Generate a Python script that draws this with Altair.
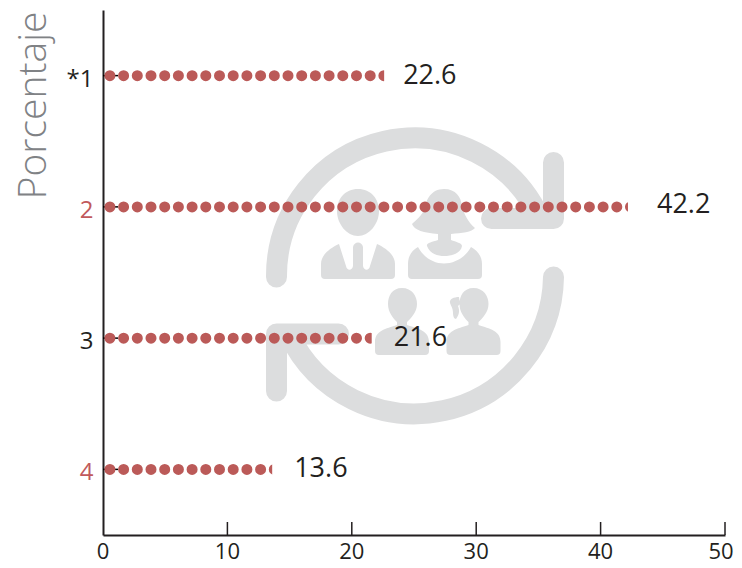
import altair as alt
import pandas as pd

categories = ["*1", "2", "3", "4"]
values = [22.6, 42.2, 21.6, 13.6]
x_ticks = [10, 20, 30, 40, 50]
x_labels = [0, 10, 20, 30, 40]
x_last_label = [50]
label_colors = ["#231f20", "#c1595c", "#231f20", "#c1595c"]
label_shift = [19, 29, 22, 22]
label_rise = [0, -2, 0, 0]

FONT = "Open Sans"
INK = "#231f20"
DOT = "#bb5a58"
GHOST = "#dcddde"
ORDER = categories

df = pd.DataFrame({"cat": categories, "value": values})
df["dot_end"] = df["value"] + 0.44
df["mask_end"] = df["value"] + 0.75
ticks = pd.DataFrame({"t": x_ticks})
tick_text = pd.DataFrame({"t": x_labels})
tick_text_last = pd.DataFrame({"t": x_last_label})
one = pd.DataFrame({"k": [0]})

x_scale = alt.Scale(domain=[0, 50], nice=False)
y_scale = alt.Scale(domain=ORDER)

color_expr = " : ".join(
    f"datum.value == '{c}' ? '{k}'" for c, k in zip(categories, label_colors)
) + " : '#231f20'"

RING = ("M276.5,277 A138,138 0 0 1 540,218.5 "
        "M553.5,162.5 L553.5,218.5 L491.5,218.5 "
        "M553.5,277 A139,139 0 0 1 289,334.5 "
        "M276.5,391 L276.5,334 L338.5,334")

TOP_PEOPLE = (
    "M358,189 C345,189 337,199 337,211 C337,224 347,236 358,236 C369,236 379,224 379,211 C379,199 371,189 358,189 Z "
    "M321,264 C321,255 330,248 339,244 L346,266 C347,271 352,271 353,266 L353,247 C354,241 362,241 363,247 "
    "L363,266 C364,271 369,271 370,266 L377,244 C386,248 395,255 395,264 L395,275 Q395,279 391,279 L325,279 Q321,279 321,275 Z "
    "M444,189 C431,189 426,200 425,208 C422,216 416,220 412,224 C414,230 424,233 438,234 L438,240 "
    "C432,242 426,243 427,246 C430,254 438,256 444,256 C452,256 461,253 462,246 C462,243 456,242 451,240 "
    "L451,234 C462,233 472,232 475,228 C468,222 464,214 462,206 C461,197 456,189 444,189 Z "
    "M418,247 C424,258 434,263.5 444,263.5 C454,263.5 465,258 471,247 C477,250 482,256 482,264 L482,275 "
    "Q482,279 478,279 L412,279 Q408,279 408,275 L408,264 C408,256 412,250 418,247 Z"
)

BOTTOM_PEOPLE = (
    "M402,288 C392,288 388,296 388,304 C388,312 393,318 397,322 L397,325 C390,328 375,329 375,342 L375,351 "
    "Q375,355 379,355 L425,355 Q429,355 429,351 L429,342 C429,329 414,328 407,325 L407,322 C411,318 417,312 417,304 "
    "C417,296 412,288 402,288 Z "
    "M473.5,288 C463.5,288 459.5,296 459.5,304 C459.5,312 464.5,318 468.5,322 L468.5,325 C461.5,328 446.5,329 446.5,342 "
    "L446.5,351 Q446.5,355 450.5,355 L496.5,355 Q500.5,355 500.5,351 L500.5,342 C500.5,329 485.5,328 478.5,325 "
    "L478.5,322 C482.5,318 488.5,312 488.5,304 C488.5,296 483.5,288 473.5,288 Z "
    "M459,297 C454,297 449,299 450,303 C451,306 453,308 453,313 C453,316 454,319 456,319 C459,315 460,311 458,306 L460,304 Z"
)


def ghost(path, filled):
    kw = dict(shape=path, size=4, opacity=1)
    if filled:
        mark = alt.Chart(one).mark_point(filled=True, color=GHOST, **kw)
    else:
        mark = alt.Chart(one).mark_point(
            filled=False, stroke=GHOST, strokeWidth=21, strokeCap="round", strokeJoin="round", **kw
        )
    return mark.encode(x=alt.value(-103), y=alt.value(-10))


base = alt.Chart(df).encode(
    y=alt.Y(
        "cat:N",
        scale=y_scale,
        sort=ORDER,
        axis=alt.Axis(
            title="Porcentaje",
            titleFont=FONT,
            titleFontSize=39,
            titleFontWeight=300,
            titleColor="#808285",
            titleAngle=-90,
            titleX=-58,
            titleY=95,
            titleAnchor="middle",
            titleBaseline="alphabetic",
            titleAlign="center",
            ticks=False,
            grid=False,
            domainColor=INK,
            domainWidth=2,
            labelFont=FONT,
            labelFontSize=24,
            labelColor=alt.expr(color_expr),
            labelPadding=10,
            labelAngle=0,
            labelOffset=4,
        ),
    )
)

y_ticks = base.mark_rule(color="#000000", strokeWidth=1.5).encode(
    x=alt.value(0), x2=alt.value(15)
)

dots = base.mark_rule(
    color=DOT, strokeWidth=11, strokeCap="round", strokeDash=[0, 13.7], strokeDashOffset=6.8
).encode(
    x=alt.X(
        "zero:Q",
        scale=x_scale,
        axis=alt.Axis(
            title=None,
            values=[0, 10, 20, 30, 40, 50],
            ticks=False,
            grid=False,
            domainColor=INK,
            domainWidth=2,
            labels=False,
        ),
    ),
    x2="dot_end:Q",
).transform_calculate(zero="0")

mask = base.mark_rule(color="#ffffff", strokeWidth=13).encode(
    x=alt.X("value:Q", scale=x_scale), x2="mask_end:Q"
)

x_tick_marks = alt.Chart(ticks).mark_rule(color=INK, strokeWidth=1.5).encode(
    x=alt.X("t:Q", scale=x_scale), y=alt.value(512), y2=alt.value(525)
)


def tick_labels(frame, shift):
    return alt.Chart(frame).mark_text(
        font=FONT, fontSize=22, color=INK, align="center", baseline="alphabetic", dx=shift
    ).encode(x=alt.X("t:Q", scale=x_scale), y=alt.value(549), text=alt.Text("t:Q"))


labels = []
for cat, shift, rise in zip(categories, label_shift, label_rise):
    labels.append(
        base.transform_filter(alt.datum.cat == cat)
        .mark_text(font=FONT, fontSize=27, color=INK, align="left", baseline="middle", dx=shift, dy=rise)
        .encode(x=alt.X("value:Q", scale=x_scale), text=alt.Text("value:Q", format=".1f"))
    )

chart = alt.layer(
    ghost(RING, False),
    ghost(TOP_PEOPLE, True),
    y_ticks,
    dots,
    mask,
    ghost(BOTTOM_PEOPLE, True),
    x_tick_marks,
    tick_labels(tick_text, 0),
    tick_labels(tick_text_last, -4),
    *labels,
).properties(
    width=622,
    height=525,
    background="#ffffff",
    autosize=alt.AutoSizeParams(type="none"),
    padding={"left": 95, "top": 2, "right": 9, "bottom": 25},
).configure_view(stroke=None)

chart.save("out.html", embed_options={"renderer": "svg", "actions": False})
